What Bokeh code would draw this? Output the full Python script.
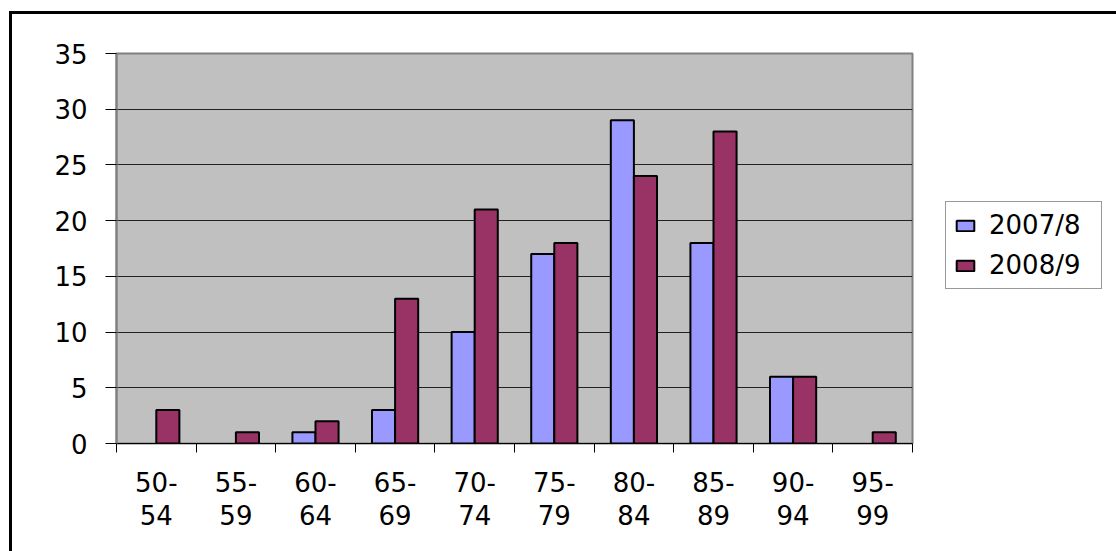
import numpy as np
from bokeh.plotting import figure
from bokeh.models import ColumnDataSource, Range1d, FixedTicker, Legend, LegendItem, CDSView, BooleanFilter
from bokeh.embed import file_html
from bokeh.resources import INLINE

categories = ["50-54", "55-59", "60-64", "65-69", "70-74", "75-79", "80-84", "85-89", "90-94", "95-99"]
tick_labels = ["50-\n54", "55-\n59", "60-\n64", "65-\n69", "70-\n74", "75-\n79", "80-\n84", "85-\n89", "90-\n94", "95-\n99"]
series_names = ["2007/8", "2008/9"]
values_2007 = [0, 0, 1, 3, 10, 17, 29, 18, 6, 0]
values_2008 = [3, 1, 2, 13, 21, 18, 24, 28, 6, 1]
y_ticks = [0, 5, 10, 15, 20, 25, 30, 35]

n = len(categories)
centers = np.arange(n) + 0.5
bar_w = 0.29
src = ColumnDataSource(dict(
    x1=centers - bar_w / 2, x2=centers + bar_w / 2,
    v1=values_2007, v2=values_2008,
))
view1 = CDSView(filter=BooleanFilter([v > 0 for v in values_2007]))
view2 = CDSView(filter=BooleanFilter([v > 0 for v in values_2008]))

FONT = "DejaVu Sans"
FSIZE = "26px"

p = figure(frame_width=796, frame_height=390, output_backend="svg", toolbar_location=None,
           x_range=Range1d(0, n), y_range=Range1d(0, 35),
           min_border_left=104, min_border_top=39, min_border_bottom=108, min_border_right=0)
p.margin = (11, 0, 0, 9)
p.styles = {"border-left": "3px solid black", "border-top": "3px solid black"}

p.background_fill_color = "#C0C0C0"
p.border_fill_color = "white"
p.outline_line_color = "#808080"
p.outline_line_width = 2

r1 = p.vbar(x="x1", top="v1", width=bar_w, source=src, view=view1, fill_color="#9999FF",
            line_color="black", line_width=2)
r2 = p.vbar(x="x2", top="v2", width=bar_w, source=src, view=view2, fill_color="#993366",
            line_color="black", line_width=2)

# Y axis
p.yaxis.ticker = FixedTicker(ticks=y_ticks, minor_ticks=[])
p.yaxis.major_tick_out = 11
p.yaxis.major_tick_in = 0
p.yaxis.major_tick_line_color = "black"
p.yaxis.axis_line_color = "#808080"
p.yaxis.axis_line_width = 2
p.yaxis.major_label_text_font = FONT
p.yaxis.major_label_text_font_size = FSIZE
p.yaxis.major_label_text_color = "black"
p.yaxis.major_label_standoff = 18

# X axis
p.xaxis.ticker = FixedTicker(ticks=list(centers), minor_ticks=list(range(n + 1)))
p.xaxis.major_label_overrides = {float(c): lab for c, lab in zip(centers, tick_labels)}
p.xaxis.major_tick_out = 0
p.xaxis.major_tick_in = 0
p.xaxis.minor_tick_out = 9
p.xaxis.minor_tick_in = 0
p.xaxis.minor_tick_line_color = "black"
p.xaxis.axis_line_color = "black"
p.xaxis.axis_line_width = 1
p.xaxis.major_label_text_font = FONT
p.xaxis.major_label_text_font_size = FSIZE
p.xaxis.major_label_text_color = "black"
p.xaxis.major_label_text_line_height = 1.1
p.xaxis.major_label_standoff = 15

p.xgrid.visible = False
p.ygrid.ticker = FixedTicker(ticks=y_ticks)
p.ygrid.grid_line_color = "#222222"
p.ygrid.grid_line_width = 1

legend = Legend(items=[LegendItem(label=series_names[0], renderers=[r1]),
                       LegendItem(label=series_names[1], renderers=[r2])],
                location=(33, 154), margin=0)
legend.label_text_font = FONT
legend.label_text_font_size = FSIZE
legend.label_text_color = "black"
legend.glyph_width = 22
legend.glyph_height = 13
legend.label_standoff = 13
legend.label_width = 104
legend.spacing = 10
legend.padding = 8
legend.label_height = 24
legend.border_line_color = "#333333"
legend.border_line_width = 1
legend.background_fill_color = "white"
legend.background_fill_alpha = 1
p.add_layout(legend, "right")

open("out.html", "w").write(file_html(p, INLINE))
